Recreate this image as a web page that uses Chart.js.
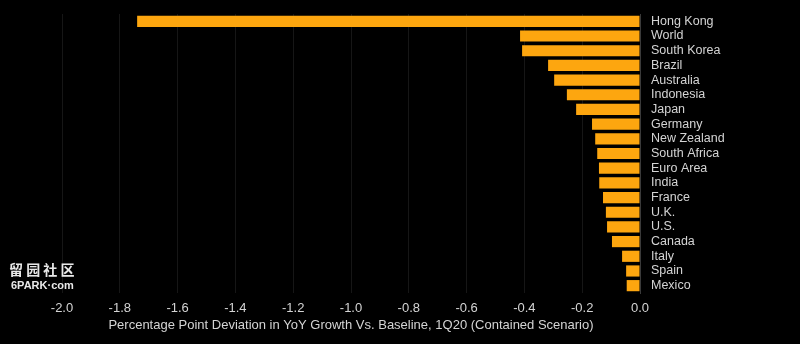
<!DOCTYPE html>
<html>
<head>
<meta charset="utf-8">
<script src="https://cdn.jsdelivr.net/npm/chart.js@4/dist/chart.umd.min.js"></script>
<style>
  html, body { margin: 0; padding: 0; background: #000; }
  #wrap { width: 800px; height: 344px; position: relative; }
</style>
</head>
<body>
<div id="wrap"><canvas id="deviation"></canvas></div>
<script>
const countries = [
  'Hong Kong', 'World', 'South Korea', 'Brazil', 'Australia', 'Indonesia', 'Japan',
  'Germany', 'New Zealand', 'South Africa', 'Euro Area', 'India', 'France', 'U.K.',
  'U.S.', 'Canada', 'Italy', 'Spain', 'Mexico'
];
const deviation = [
  -1.74, -0.415, -0.408, -0.318, -0.297, -0.253, -0.221,
  -0.166, -0.155, -0.148, -0.142, -0.141, -0.128, -0.118,
  -0.114, -0.097, -0.062, -0.048, -0.046
];
const xTitle = 'Percentage Point Deviation in YoY Growth Vs. Baseline, 1Q20 (Contained Scenario)';
const markLines = ['留园社区', '6PARK·com'];

const textColor = '#d4d4d4';
const barColor = '#fda60f';

// site mark in the lower left corner
const markPlugin = {
  id: 'mark',
  afterDraw(chart) {
    const ctx = chart.ctx;
    ctx.save();
    ctx.fillStyle = '#e8e8e8';
    ctx.textBaseline = 'middle';
    ctx.textAlign = 'left';
    ctx.font = 'bold 14px "Noto Sans CJK SC"';
    ctx.fillText(markLines[0].split('').join(' '), 9, 270);
    ctx.font = 'bold 11px "Liberation Sans"';
    ctx.fillText(markLines[1], 11, 286);
    ctx.restore();
  }
};

const bgPlugin = {
  id: 'bg',
  beforeDraw(chart) {
    const ctx = chart.ctx;
    ctx.save();
    ctx.fillStyle = '#000';
    ctx.fillRect(0, 0, chart.width, chart.height);
    ctx.restore();
  }
};

Chart.defaults.font.family = '"Liberation Sans", Arial, sans-serif';

new Chart(document.getElementById('deviation'), {
  type: 'bar',
  data: {
    labels: countries,
    datasets: [{
      data: deviation,
      backgroundColor: barColor,
      borderWidth: 0,
      categoryPercentage: 1,
      barPercentage: 0.76
    }]
  },
  options: {
    indexAxis: 'y',
    responsive: true,
    maintainAspectRatio: false,
    animation: false,
    layout: { padding: { top: 14, bottom: 0, left: 62, right: 0 } },
    plugins: {
      legend: { display: false },
      tooltip: { enabled: false }
    },
    scales: {
      x: {
        min: -2,
        max: 0,
        afterFit(scale) { scale.height = 51; },
        ticks: {
          stepSize: 0.2,
          color: textColor,
          font: { size: 13 },
          padding: 8,
          maxRotation: 0,
          callback: (v) => Number(v).toFixed(1)
        },
        grid: { color: '#161616', lineWidth: 1, drawTicks: false },
        border: { display: false },
        title: {
          display: true,
          text: xTitle,
          color: textColor,
          font: { size: 13 },
          padding: { top: 0, bottom: 11 }
        }
      },
      y: {
        position: 'right',
        afterFit(scale) {
          scale.width = 160;
          // bars are offset, so labels never spill past the ends
          scale.paddingTop = 0;
          scale.paddingBottom = 0;
        },
        ticks: {
          color: textColor,
          font: { size: 12.5 },
          padding: 11,
          crossAlign: 'near',
          autoSkip: false
        },
        grid: { display: false, drawTicks: false },
        border: { display: true, color: '#3a3a3a', width: 1 }
      }
    }
  },
  plugins: [bgPlugin, markPlugin]
});
</script>
</body>
</html>
